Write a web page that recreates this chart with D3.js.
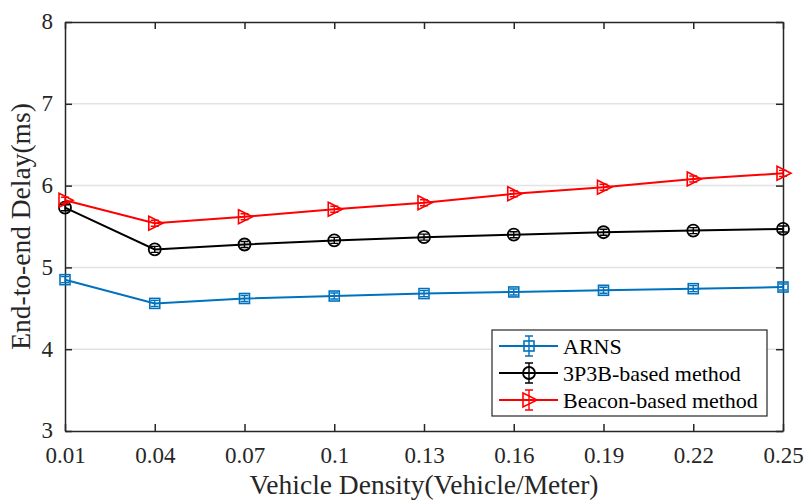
<!DOCTYPE html>
<html>
<head>
<meta charset="utf-8">
<script src="https://cdn.jsdelivr.net/npm/d3@7"></script>
<style>
  body { margin: 0; background: #fff; }
  svg text { font-family: 'Liberation Serif', 'Times New Roman', serif; }
</style>
</head>
<body>
<svg width="805" height="500"></svg>
<script>
const densities = [0.01, 0.04, 0.07, 0.1, 0.13, 0.16, 0.19, 0.22, 0.25];
const xTickLabels = ['0.01', '0.04', '0.07', '0.1', '0.13', '0.16', '0.19', '0.22', '0.25'];
const yTicks = [3, 4, 5, 6, 7, 8];
const arns = [4.85, 4.56, 4.62, 4.65, 4.68, 4.70, 4.72, 4.74, 4.76];
const p3b = [5.73, 5.22, 5.28, 5.33, 5.37, 5.40, 5.43, 5.45, 5.47];
const beacon = [5.82, 5.54, 5.62, 5.71, 5.79, 5.90, 5.98, 6.08, 6.15];
const seriesNames = ['ARNS', '3P3B-based method', 'Beacon-based method'];

const series = [
    {name: seriesNames[0], values: arns, color: '#0072BD', marker: 'square'},
    {name: seriesNames[1], values: p3b, color: '#000000', marker: 'circle'},
    {name: seriesNames[2], values: beacon, color: '#FF0000', marker: 'triangle'}
];

const svg = d3.select('svg');
const plotLeft = 65, plotRight = 783, plotTop = 22, plotBottom = 431;
const axisColor = '#262626';

const x = d3.scaleLinear().domain([0.01, 0.25]).range([plotLeft, plotRight]);
const y = d3.scaleLinear().domain([3, 8]).range([plotBottom, plotTop]);

// grid
svg.append('g')
    .selectAll('line')
    .data(yTicks.slice(1, -1))
    .enter().append('line')
    .attr('x1', plotLeft).attr('x2', plotRight)
    .attr('y1', d => y(d)).attr('y2', d => y(d))
    .attr('stroke', '#e3e3e3')
    .attr('stroke-width', 1.5);

// axes (ticks point inward like matlab)
const tickLen = 7;
const xAxis = svg.append('g')
    .attr('transform', `translate(0,${plotBottom})`)
    .call(d3.axisBottom(x).tickValues(densities).tickFormat((d, i) => xTickLabels[i]).tickSizeInner(-tickLen).tickSizeOuter(0).tickPadding(16));
const yAxis = svg.append('g')
    .attr('transform', `translate(${plotLeft},0)`)
    .call(d3.axisLeft(y).tickValues(yTicks).tickFormat(d3.format('d')).tickSizeInner(-tickLen).tickSizeOuter(0).tickPadding(12));
const xTop = svg.append('g')
    .attr('transform', `translate(0,${plotTop})`)
    .call(d3.axisTop(x).tickValues(densities).tickFormat('').tickSizeInner(-tickLen).tickSizeOuter(0));
const yRight = svg.append('g')
    .attr('transform', `translate(${plotRight},0)`)
    .call(d3.axisRight(y).tickValues(yTicks).tickFormat('').tickSizeInner(-tickLen).tickSizeOuter(0));

[xAxis, yAxis, xTop, yRight].forEach(function (g) {
    g.attr('font-family', null).attr('font-size', null);
    g.selectAll('path').attr('stroke', axisColor).attr('stroke-width', 1.5);
    g.selectAll('line').attr('stroke', axisColor).attr('stroke-width', 1.5);
    g.selectAll('text')
        .attr('fill', axisColor)
        .attr('font-size', 23);
});
yAxis.selectAll('text').attr('dy', '0.3em');

// axis titles
svg.append('text')
    .attr('x', (plotLeft + plotRight) / 2)
    .attr('y', 494)
    .attr('text-anchor', 'middle')
    .attr('fill', axisColor)
    .attr('font-size', 27.5)
    .text('Vehicle Density(Vehicle/Meter)');
svg.append('text')
    .attr('transform', `translate(30,${(plotTop + plotBottom) / 2}) rotate(-90)`)
    .attr('text-anchor', 'middle')
    .attr('fill', axisColor)
    .attr('font-size', 27.5)
    .text('End-to-end Delay(ms)');

function drawMarker(g, type, color) {
    if (type === 'square') {
        g.append('rect').attr('x', -5).attr('y', -5).attr('width', 10).attr('height', 10)
            .attr('fill', 'none').attr('stroke', color).attr('stroke-width', 1.6);
    } else if (type === 'circle') {
        g.append('circle').attr('r', 6)
            .attr('fill', 'none').attr('stroke', color).attr('stroke-width', 1.8);
    } else {
        g.append('path').attr('d', 'M-6,-7L8,0L-6,7Z')
            .attr('fill', 'none').attr('stroke', color).attr('stroke-width', 1.6);
    }
}

function drawErrorBar(g, color, half) {
    g.append('path')
        .attr('d', `M0,${-half}V${half}M-4,${-half}H4M-4,${half}H4`)
        .attr('stroke', color).attr('stroke-width', 1.4).attr('fill', 'none');
}

const line = d3.line()
    .x((d, i) => x(densities[i]))
    .y(d => y(d));

series.forEach(function (s) {
    svg.append('path')
        .datum(s.values)
        .attr('d', line)
        .attr('fill', 'none')
        .attr('stroke', s.color)
        .attr('stroke-width', 2);
    svg.append('g')
        .selectAll('g')
        .data(s.values)
        .enter().append('g')
        .attr('transform', (d, i) => `translate(${x(densities[i])},${y(d)})`)
        .each(function () {
            const g = d3.select(this);
            drawErrorBar(g, s.color, 3);
            drawMarker(g, s.marker, s.color);
        });
});

// legend
const legend = svg.append('g').attr('transform', 'translate(492,330)');
legend.append('rect')
    .attr('width', 275).attr('height', 86)
    .attr('fill', '#fff').attr('stroke', axisColor).attr('stroke-width', 1.2);
series.forEach(function (s, i) {
    const row = legend.append('g').attr('transform', `translate(0,${16 + i * 27})`);
    row.append('line').attr('x1', 7).attr('x2', 66)
        .attr('stroke', s.color).attr('stroke-width', 2);
    const m = row.append('g').attr('transform', 'translate(37,0)');
    drawErrorBar(m, s.color, 10);
    drawMarker(m, s.marker, s.color);
    row.append('text')
        .attr('x', 71).attr('dy', '0.35em')
        .attr('fill', '#000')
        .attr('font-size', 22)
        .text(s.name);
});
</script>
</body>
</html>
